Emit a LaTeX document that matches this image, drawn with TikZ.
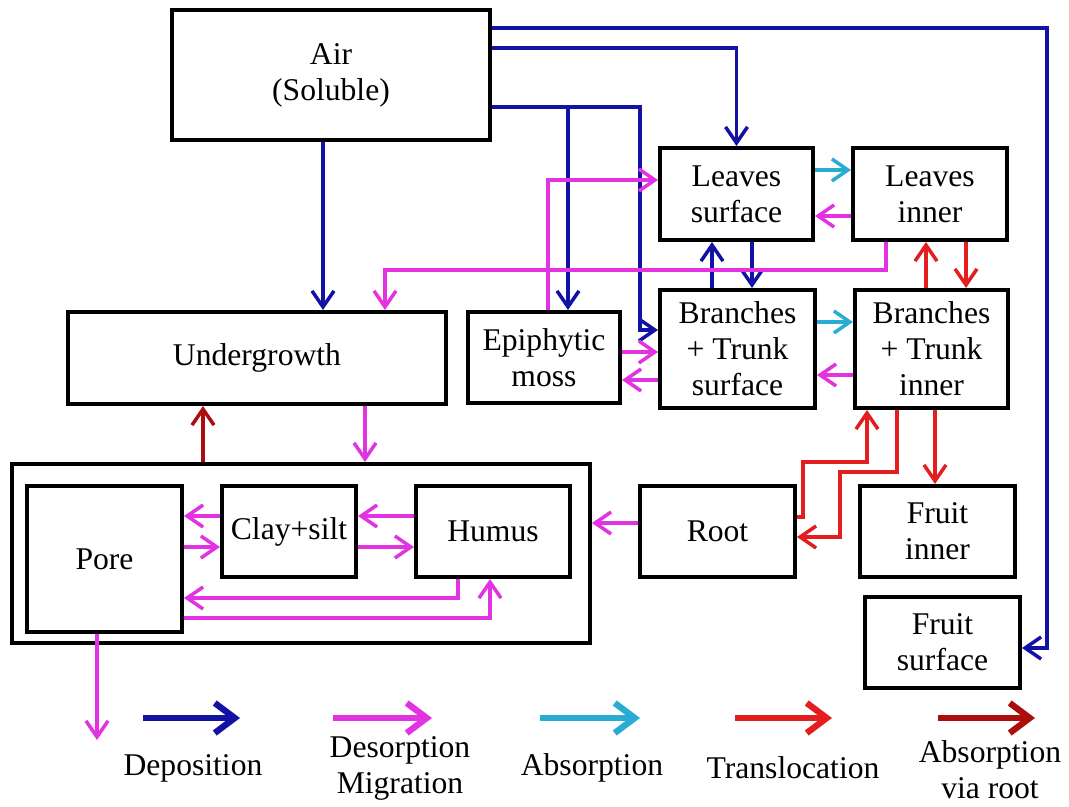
\documentclass[tikz,border=0pt]{standalone}
\usepackage{fontspec}
\setmainfont{Liberation Serif}
\usepackage{tikz}
\usetikzlibrary{arrows.meta}
\usepackage{xcolor}
\definecolor{depblue}{RGB}{18,18,165}
\definecolor{migpink}{RGB}{226,50,226}
\definecolor{abscyan}{RGB}{40,172,212}
\definecolor{trared}{RGB}{226,30,30}
\definecolor{viared}{RGB}{172,14,14}

\begin{document}
\begin{tikzpicture}[x=0.02cm,y=-0.02cm,
	box/.style={draw,line width=2.3pt,align=center,inner sep=0pt,font=\rmfamily\fontsize{18}{20.5}\selectfont},
	flow/.style={line width=2pt,-{Straight Barb[length=3.2mm,width=4.4mm]}},
	dep/.style={flow,depblue},
	mig/.style={flow,migpink},
	abs/.style={flow,abscyan},
	tra/.style={flow,trared},
	via/.style={flow,viared},
	key/.style={line width=3.6pt,-{Straight Barb[length=4mm,width=6mm]}},
	keytext/.style={align=center,font=\rmfamily\fontsize{18}{20.5}\selectfont}]
\useasboundingbox (0,0) rectangle (1069,807);

\begin{scope}[every node/.style={box}]
	\node[minimum width=6.36cm,minimum height=2.6cm] (air) at (331,75) {Air\\(Soluble)};
	\node[minimum width=3.06cm,minimum height=1.84cm] (leavessurf) at (736.5,194) {Leaves\\surface};
	\node[minimum width=3.08cm,minimum height=1.84cm] (leavesinner) at (930,194) {Leaves\\inner};
	\node[minimum width=7.56cm,minimum height=1.84cm] (under) at (257,358) {Undergrowth};
	\node[minimum width=3.04cm,minimum height=1.82cm] (moss) at (544,357.5) {Epiphytic\\moss};
	\node[minimum width=3.1cm,minimum height=2.36cm] (branchsurf) at (737.5,349) {Branches\\+ Trunk\\surface};
	\node[minimum width=3.06cm,minimum height=2.36cm] (branchinner) at (931.5,349) {Branches\\+ Trunk\\inner};

	\node[minimum width=11.56cm,minimum height=3.58cm] (soil) at (301,553.5) {};
	\node[minimum width=3.1cm,minimum height=2.92cm] (pore) at (104.5,559) {Pore};
	\node[minimum width=2.68cm,minimum height=1.82cm] (clay) at (289,531.5) {Clay+silt};
	\node[minimum width=3.08cm,minimum height=1.82cm] (humus) at (493,531.5) {Humus};

	\node[minimum width=3.1cm,minimum height=1.82cm] (root) at (717.5,531.5) {Root};
	\node[minimum width=3.1cm,minimum height=1.82cm] (fruitin) at (937.5,531.5) {Fruit\\inner};
	\node[minimum width=3.1cm,minimum height=1.82cm] (fruitsurf) at (942.5,642.5) {Fruit\\surface};
\end{scope}

\coordinate (split) at (568,107);
\coordinate (drain) at (97,740);

% deposition
\draw[dep] (air.east |- 0,28) -- (1047,28) |- (fruitsurf.east |- 0,648);
\draw[dep] (air.east |- 0,48) -| (leavessurf.north);
\draw[dep] (air.east |- 0,107) -- (640,107) |- (branchsurf.west |- 0,330);
\draw[dep] (split) -- (moss.north -| split);
\draw[dep] (air.south -| 323,0) -- (under.north -| 323,0);
\draw[dep] (branchsurf.north -| 712,0) -- (leavessurf.south -| 712,0);
\draw[dep] (leavessurf.south -| 752,0) -- (branchsurf.north -| 752,0);

% absorption
\draw[abs] (leavessurf.east |- 0,170) -- (leavesinner.west |- 0,170);
\draw[abs] (branchsurf.east |- 0,322) -- (branchinner.west |- 0,322);

% desorption / migration
\draw[mig] (leavesinner.west |- 0,216) -- (leavessurf.east |- 0,216);
\draw[mig] (branchinner.west |- 0,375) -- (branchsurf.east |- 0,375);
\draw[mig] (moss.east |- 0,352) -- (branchsurf.west |- 0,352);
\draw[mig] (branchsurf.west |- 0,380) -- (moss.east |- 0,380);
\draw[mig] (moss.north -| 548,0) |- (leavessurf.west |- 0,180);
\draw[mig] (leavesinner.south -| 886,0) -- (886,270) -| (under.north -| 385,0);
\draw[mig] (under.south -| 365,0) -- (soil.north -| 365,0);
\draw[mig] (clay.west |- 0,516) -- (pore.east |- 0,516);
\draw[mig] (pore.east |- 0,547) -- (clay.west |- 0,547);
\draw[mig] (humus.west |- 0,516) -- (clay.east |- 0,516);
\draw[mig] (clay.east |- 0,547) -- (humus.west |- 0,547);
\draw[mig] (humus.south -| 458,0) |- (pore.east |- 0,598);
\draw[mig] (pore.east |- 0,618) -| (humus.south -| 490,0);
\draw[mig] (pore.south -| drain) -- (drain);
\draw[mig] (root.west |- 0,523) -- (soil.east |- 0,523);

% translocation
\draw[tra] (branchinner.north -| 926,0) -- (leavesinner.south -| 926,0);
\draw[tra] (leavesinner.south -| 966,0) -- (branchinner.north -| 966,0);
\draw[tra] (root.east |- 0,517) -- (803,517) -- (803,462) -| (branchinner.south -| 867,0);
\draw[tra] (branchinner.south -| 897,0) -- (897,472) -| (840,537) -- (root.east |- 0,537);
\draw[tra] (branchinner.south -| 935,0) -- (fruitin.north -| 935,0);

% absorption via root
\draw[via] (soil.north -| 203,0) -- (under.south -| 203,0);

% legend
\draw[key,depblue] (143,718) -- (240,718);
\draw[key,migpink] (333,718) -- (432,718);
\draw[key,abscyan] (540,718) -- (640,718);
\draw[key,trared] (735,718) -- (832,718);
\draw[key,viared] (938,718) -- (1035,718);
\node[keytext] (kdep) at (193,768) {Deposition};
\node[keytext] (kmig) at (400,768) {Desorption\\Migration};
\node[keytext] (kabs) at (592,768) {Absorption};
\node[keytext] (ktra) at (793,768) {Translocation};
\node[keytext] (kvia) at (990,770) {Absorption\\via root};
\end{tikzpicture}
\end{document}
